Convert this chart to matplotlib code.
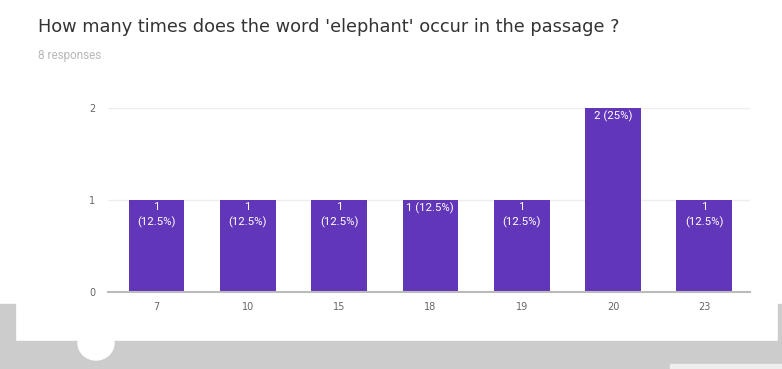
import matplotlib
matplotlib.use("Agg")
import matplotlib.pyplot as plt
from matplotlib.patches import Rectangle, Ellipse

# answers and counts
answers = ["7", "10", "15", "18", "19", "20", "23"]
counts = [1, 1, 1, 1, 1, 2, 1]
bar_labels = ["1\n(12.5%)", "1\n(12.5%)", "1\n(12.5%)", "1 (12.5%)",
              "1\n(12.5%)", "2 (25%)", "1\n(12.5%)"]
yticks = [0, 1, 2]

W, H = 782, 369
purple = "#6236b8"

fig = plt.figure(figsize=(W / 100, H / 100), dpi=100)
fig.patch.set_facecolor("white")

def fx(x):
    return x / W

def fy(y):
    return 1 - y / H

# chart area
ax = fig.add_axes([fx(108), fy(292), fx(750) - fx(108), fy(108) - fy(292)])
xs = list(range(len(answers)))
ax.bar(xs, counts, width=0.61, color=purple, zorder=3)
ax.set_xlim(-0.53, 6.5)
ax.set_ylim(0, 2)
ax.set_yticks(yticks)
ax.set_yticklabels([str(t) for t in yticks])
ax.set_xticks(xs)
ax.set_xticklabels(answers)
ax.tick_params(length=0, labelsize=7, labelcolor="#666666")
ax.tick_params(axis="y", pad=9)
ax.tick_params(axis="x", pad=7)
ax.grid(axis="y", color="#eeeeee", lw=1, zorder=0)
for s in ["top", "right", "left"]:
    ax.spines[s].set_visible(False)
ax.spines["bottom"].set_color("#bbbbbb")
ax.spines["bottom"].set_linewidth(1.5)
ax.spines["bottom"].set_zorder(4)

for x, c, lab in zip(xs, counts, bar_labels):
    ax.annotate(lab, (x, c), xytext=(0, -1.5), textcoords="offset points",
                ha="center", va="top", color="white", fontsize=8.2,
                family="Roboto", linespacing=1.45, zorder=5)

# heading
fig.text(fx(38), fy(27), "How many times does the word 'elephant' occur in the passage ?",
         fontsize=12.8, family="DejaVu Sans", color="#333333", va="center", ha="left")
fig.text(fx(38), fy(56), "8 responses", fontsize=8.5, family="Roboto",
         color="#b8b8b8", va="center", ha="left")

# grey frame from the screenshot around the bottom
gray = "#cccccc"
fig.patches.append(Rectangle((fx(0), fy(369)), fx(782), fy(341) - fy(369),
                             transform=fig.transFigure, color=gray, zorder=0))
fig.patches.append(Rectangle((fx(0), fy(341)), fx(15), fy(304) - fy(341),
                             transform=fig.transFigure, color=gray, zorder=0))
fig.patches.append(Rectangle((fx(778), fy(341)), fx(4), fy(304) - fy(341),
                             transform=fig.transFigure, color=gray, zorder=0))
fig.patches.append(Ellipse((fx(96), fy(343)), fx(36), fy(326) - fy(360),
                           transform=fig.transFigure, color="white", zorder=1))
fig.patches.append(Rectangle((fx(670), fy(369)), fx(112), fy(364) - fy(369),
                             transform=fig.transFigure, color="#eeeeee", zorder=1))

fig.savefig("out.png", dpi=100, facecolor="white")
